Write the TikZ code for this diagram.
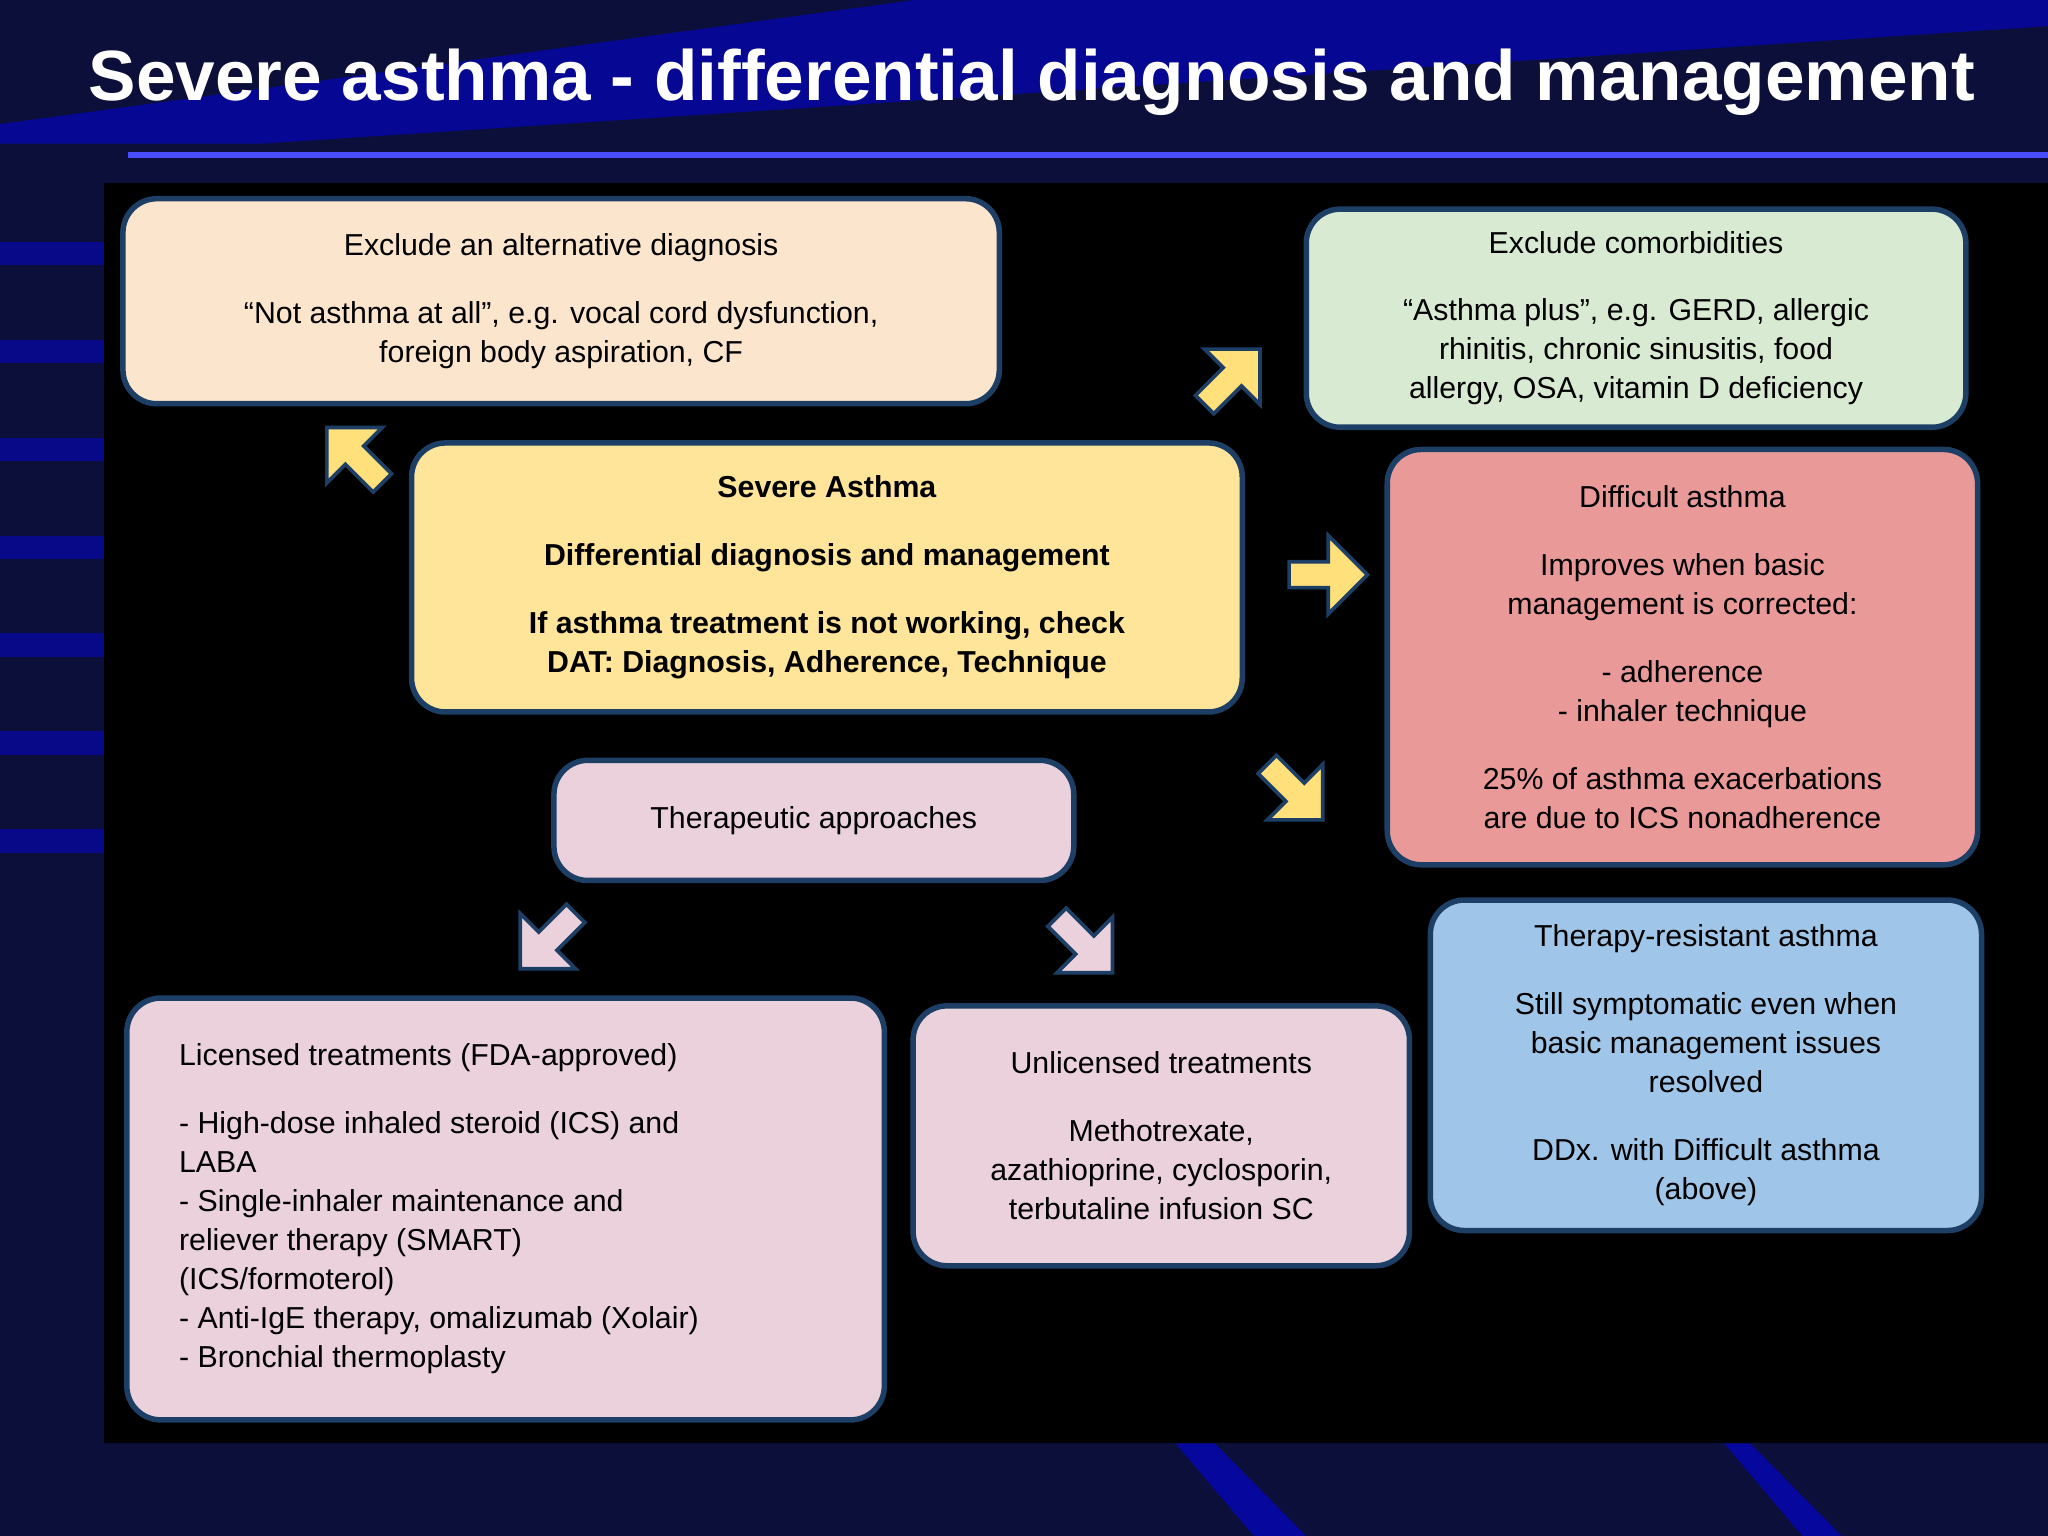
\documentclass[tikz,border=0pt]{standalone}
\usepackage{fontspec}
\setmainfont{Liberation Sans}
\usetikzlibrary{shapes.arrows}
\definecolor{navy}{HTML}{0B0F3A}
\definecolor{edge}{HTML}{1D3F66}
\definecolor{peach}{HTML}{FCE5CD}
\definecolor{lgreen}{HTML}{D9EAD3}
\definecolor{lyellow}{HTML}{FFE599}
\definecolor{lred}{HTML}{EA9999}
\definecolor{lpink}{HTML}{EAD1DC}
\definecolor{lblue}{HTML}{9FC5E8}
\definecolor{ayellow}{HTML}{FFE07A}
\tikzset{
  box/.style={draw=edge,line width=1.2pt,rounded corners=2.6mm,anchor=north west,inner sep=0pt,font=\fontsize{6.6}{8.5}\selectfont,align=center},
  barrow/.style={single arrow,draw=edge,line width=0.8pt,minimum height=6mm,minimum width=6mm,single arrow head extend=1.3mm,inner sep=0.5mm}
}
\begin{document}
\begin{tikzpicture}[x=0.1mm,y=-0.1mm]
\useasboundingbox (0,0) rectangle (1568,1176);
\fill[navy] (0,0) rectangle (1568,1176);
\fill[blue!45!navy] (0,95) -- (700,0) -- (1568,0) -- (1568,20) -- (200,110) -- (0,110) -- cycle;
\foreach \yy in {185,260,335,410,485,560,635} \fill[blue!40!navy] (0,\yy) rectangle (80,\yy+18);
\fill[blue!50!navy] (930,1105) -- (1000,1176) -- (960,1176) -- (900,1105) -- cycle;
\fill[blue!50!navy] (1340,1105) -- (1410,1176) -- (1380,1176) -- (1320,1105) -- cycle;
\fill[blue!80!white] (1538,285) rectangle (1568,305);
\fill[blue!80!white] (1538,565) -- (1568,575) -- (1568,595) -- (1538,585) -- cycle;
\fill[blue!80!white] (1538,830) -- (1568,850) -- (1568,875) -- (1538,855) -- cycle;
\node[text=white,font=\bfseries\fontsize{15.5}{18}\selectfont] (title) at (790,63) {Severe asthma - differential diagnosis and management};
\fill[blue!70!white] (98,116) rectangle (1568,121);
\fill[black] (80,140) rectangle (1568,1105);

\node[box,fill=peach,minimum width=67.1mm,minimum height=15.7mm] (alt) at (92,150) {Exclude an alternative diagnosis\\[2.2mm]``Not asthma at all'', e.g. vocal cord dysfunction,\\foreign body aspiration, CF};
\node[box,fill=lgreen,minimum width=50.5mm,minimum height=16.7mm] (com) at (998,158) {Exclude comorbidities\\[2.2mm]``Asthma plus'', e.g. GERD, allergic\\rhinitis, chronic sinusitis, food\\allergy, OSA, vitamin D deficiency};
\node[box,fill=lyellow,minimum width=63.6mm,minimum height=20.6mm,font=\bfseries\fontsize{6.6}{8.5}\selectfont] (sev) at (313,337) {Severe Asthma\\[2.2mm]Differential diagnosis and management\\[2.2mm]If asthma treatment is not working, check\\DAT: Diagnosis, Adherence, Technique};
\node[box,fill=lred,minimum width=45.2mm,minimum height=31.8mm] (dif) at (1060,342) {Difficult asthma\\[2.2mm]Improves when basic\\management is corrected:\\[2.2mm]- adherence\\- inhaler technique\\[2.2mm]25\% of asthma exacerbations\\are due to ICS nonadherence};
\node[box,fill=lpink,minimum width=39.8mm,minimum height=9.2mm] (ther) at (422,580) {Therapeutic approaches};
\node[box,fill=lpink,minimum width=58mm,minimum height=32.3mm,align=left] (lic) at (95,762) {\parbox[c][30mm][c]{50mm}{Licensed treatments (FDA-approved)\\[2.2mm]- High-dose inhaled steroid (ICS) and\\LABA\\- Single-inhaler maintenance and\\reliever therapy (SMART)\\(ICS/formoterol)\\- Anti-IgE therapy, omalizumab (Xolair)\\- Bronchial thermoplasty}};
\node[box,fill=lpink,minimum width=38mm,minimum height=19.9mm] (unl) at (697,768) {Unlicensed treatments\\[2.2mm]Methotrexate,\\azathioprine, cyclosporin,\\terbutaline infusion SC};
\node[box,fill=lblue,minimum width=42.2mm,minimum height=25.3mm] (res) at (1093,687) {Therapy-resistant asthma\\[2.2mm]Still symptomatic even when\\basic management issues\\resolved\\[2.2mm]DDx. with Difficult asthma\\(above)};

\node[barrow,fill=ayellow,rotate=135] (a1) at (275,352) {};
\node[barrow,fill=ayellow,rotate=45] (a2) at (940,292) {};
\node[barrow,fill=ayellow,rotate=0] (a3) at (1012,440) {};
\node[barrow,fill=ayellow,rotate=-45] (a4) at (988,603) {};
\node[barrow,fill=lpink,rotate=-135] (a5) at (423,717) {};
\node[barrow,fill=lpink,rotate=-45] (a6) at (827,720) {};
\end{tikzpicture}
\end{document}
